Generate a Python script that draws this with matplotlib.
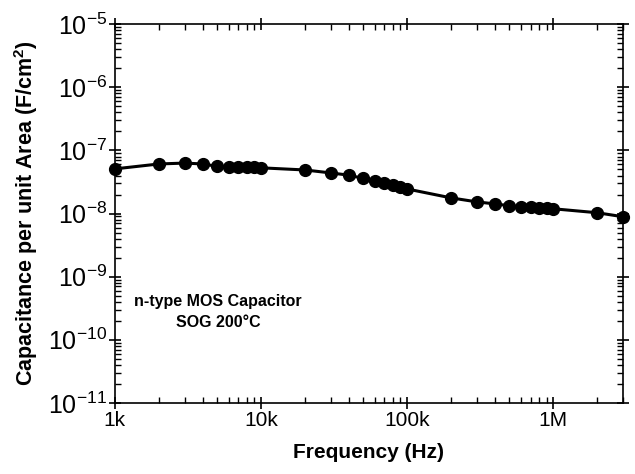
import numpy as np
import matplotlib
matplotlib.use('Agg')
import matplotlib.pyplot as plt
from matplotlib.ticker import LogLocator, FixedLocator, FixedFormatter, NullFormatter

plt.rcParams['font.family'] = 'Liberation Sans'
plt.rcParams['mathtext.fontset'] = 'custom'
plt.rcParams['mathtext.rm'] = 'Liberation Sans'
plt.rcParams['mathtext.bf'] = 'Liberation Sans:bold'

# frequency (Hz) and capacitance per unit area (F/cm^2)
freq = [1e3, 2e3, 3e3, 4e3, 5e3, 6e3, 7e3, 8e3, 9e3, 1e4,
        2e4, 3e4, 4e4, 5e4, 6e4, 7e4, 8e4, 9e4, 1e5,
        2e5, 3e5, 4e5, 5e5, 6e5, 7e5, 8e5, 9e5, 1e6,
        2e6, 3e6]
cap = [5.1e-8, 6.1e-8, 6.3e-8, 6.1e-8, 5.6e-8, 5.5e-8, 5.5e-8, 5.45e-8, 5.4e-8, 5.3e-8,
       4.9e-8, 4.4e-8, 4.05e-8, 3.6e-8, 3.3e-8, 3.0e-8, 2.8e-8, 2.6e-8, 2.45e-8,
       1.77e-8, 1.53e-8, 1.42e-8, 1.33e-8, 1.28e-8, 1.25e-8, 1.23e-8, 1.21e-8, 1.19e-8,
       1.03e-8, 8.9e-9]

xtick_vals = [1e3, 1e4, 1e5, 1e6]
xtick_labels = ['1k', '10k', '100k', '1M']
ytick_vals = [1e-11, 1e-10, 1e-9, 1e-8, 1e-7, 1e-6, 1e-5]
ytick_labels = [r'$10^{-11}$', r'$10^{-10}$', r'$10^{-9}$', r'$10^{-8}$',
                r'$10^{-7}$', r'$10^{-6}$', r'$10^{-5}$']

fig = plt.figure(figsize=(6.35, 4.74), dpi=100)
ax = fig.add_axes([0.181, 0.150, 0.800, 0.799])

ax.plot(freq, cap, '-o', color='black', lw=2.2, ms=8.5, clip_on=False, zorder=3)

ax.set_xscale('log')
ax.set_yscale('log')
ax.set_xlim(1e3, 3e6)
ax.set_ylim(1e-11, 1e-5)

ax.xaxis.set_major_locator(FixedLocator(xtick_vals))
ax.xaxis.set_major_formatter(FixedFormatter(xtick_labels))
ax.xaxis.set_minor_locator(LogLocator(base=10, subs=np.arange(2, 10)))
ax.xaxis.set_minor_formatter(NullFormatter())
ax.yaxis.set_major_locator(FixedLocator(ytick_vals))
ax.yaxis.set_major_formatter(FixedFormatter(ytick_labels))
ax.yaxis.set_minor_locator(LogLocator(base=10, subs=np.arange(2, 10), numticks=20))
ax.yaxis.set_minor_formatter(NullFormatter())

ax.tick_params(which='major', direction='inout', length=9, width=1.2,
               top=True, right=True)
ax.tick_params(which='minor', direction='in', length=4, width=1.0,
               top=True, right=True)
ax.tick_params(axis='x', which='major', labelsize=15, pad=1)
ax.tick_params(axis='y', which='major', labelsize=18, pad=1)
for s in ax.spines.values():
    s.set_linewidth(1.2)

ax.set_xlabel('Frequency (Hz)', fontsize=15, fontweight='bold', labelpad=10)
ax.set_ylabel(r'Capacitance per unit Area (F/cm$^\mathbf{2}$)', fontsize=15.5,
              fontweight='bold', labelpad=6)

ax.text(0.203, 0.24, 'n-type MOS Capacitor\nSOG 200\u00b0C', transform=ax.transAxes,
        ha='center', va='center', fontsize=11.5, fontweight='bold', linespacing=1.45)

fig.savefig('out.png', dpi=100)
